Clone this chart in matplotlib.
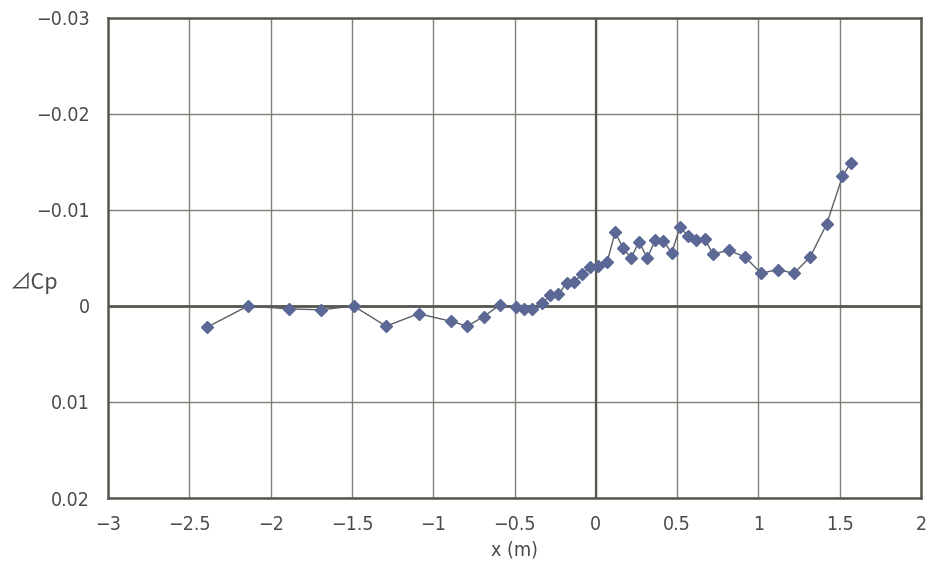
import matplotlib
matplotlib.use("Agg")
import matplotlib.pyplot as plt
from matplotlib.ticker import FuncFormatter

x_m = [-2.39, -2.14, -1.89, -1.69, -1.49, -1.29, -1.09, -0.89, -0.79, -0.69, -0.59,
       -0.49, -0.44, -0.39, -0.33, -0.28, -0.23, -0.18, -0.135, -0.084, -0.035,
       0.016, 0.07, 0.119, 0.168, 0.217, 0.266, 0.316, 0.367, 0.416, 0.467,
       0.517, 0.568, 0.619, 0.67, 0.72, 0.818, 0.918, 1.017, 1.119, 1.218,
       1.318, 1.419, 1.517, 1.568]
delta_cp = [0.0022, 0.0000, 0.0003, 0.0004, 0.0000, 0.0021, 0.0008, 0.0016, 0.0021, 0.0011, -0.0001,
            0.0001, 0.0003, 0.0003, -0.0003, -0.0011, -0.0012, -0.0024, -0.0025, -0.0033, -0.0041,
            -0.0042, -0.0046, -0.0077, -0.0060, -0.0050, -0.0067, -0.0050, -0.0069, -0.0068, -0.0055,
            -0.0082, -0.0073, -0.0069, -0.0070, -0.0054, -0.0058, -0.0051, -0.0034, -0.0038, -0.0034,
            -0.0051, -0.0085, -0.0135, -0.0149]
x_ticks = [-3, -2.5, -2, -1.5, -1, -0.5, 0, 0.5, 1, 1.5, 2]
y_ticks = [-0.03, -0.02, -0.01, 0, 0.01, 0.02]

fig = plt.figure(figsize=(9.32, 5.78), dpi=100)
ax = fig.add_axes([0.1159, 0.1384, 0.8723, 0.8305])

ax.set_xlim(-3, 2)
ax.set_ylim(0.02, -0.03)
ax.set_xticks(x_ticks)
ax.set_yticks(y_ticks)

def fmt(v, pos):
    s = ("%g" % v)
    return s.replace("-", "\u2212")
ax.xaxis.set_major_formatter(FuncFormatter(fmt))
ax.yaxis.set_major_formatter(FuncFormatter(fmt))

ax.grid(True, color="#7e8276", linewidth=1.0)
ax.set_axisbelow(True)
ax.axhline(0, color="#55584f", linewidth=2.0, zorder=1)
ax.axvline(0, color="#55584f", linewidth=1.6, zorder=1)

ax.plot(x_m, delta_cp, color="#5a5e66", linewidth=1.0, marker="D",
        markersize=6.2, markerfacecolor="#5b6896", markeredgecolor="#5b6896", zorder=3)

for sp in ax.spines.values():
    sp.set_color("#55584f")
    sp.set_linewidth(1.8)

ax.tick_params(axis="x", length=0, labelsize=14, colors="#4a4a4a", pad=12)
ax.tick_params(axis="y", length=0, labelsize=14, colors="#4a4a4a", pad=13)
for lab in ax.get_xticklabels() + ax.get_yticklabels():
    lab.set_fontstretch("condensed")

ax.set_xlabel("x (m)", fontsize=14, color="#4a4a4a", labelpad=5, fontstretch="condensed")
fig.text(0.011, 1 - 283 / 578, "\u22bfCp", fontsize=15.5, color="#4a4a4a",
         va="center", ha="left", family=["Noto Sans CJK JP", "DejaVu Sans"])

fig.savefig("out.png", dpi=100)
